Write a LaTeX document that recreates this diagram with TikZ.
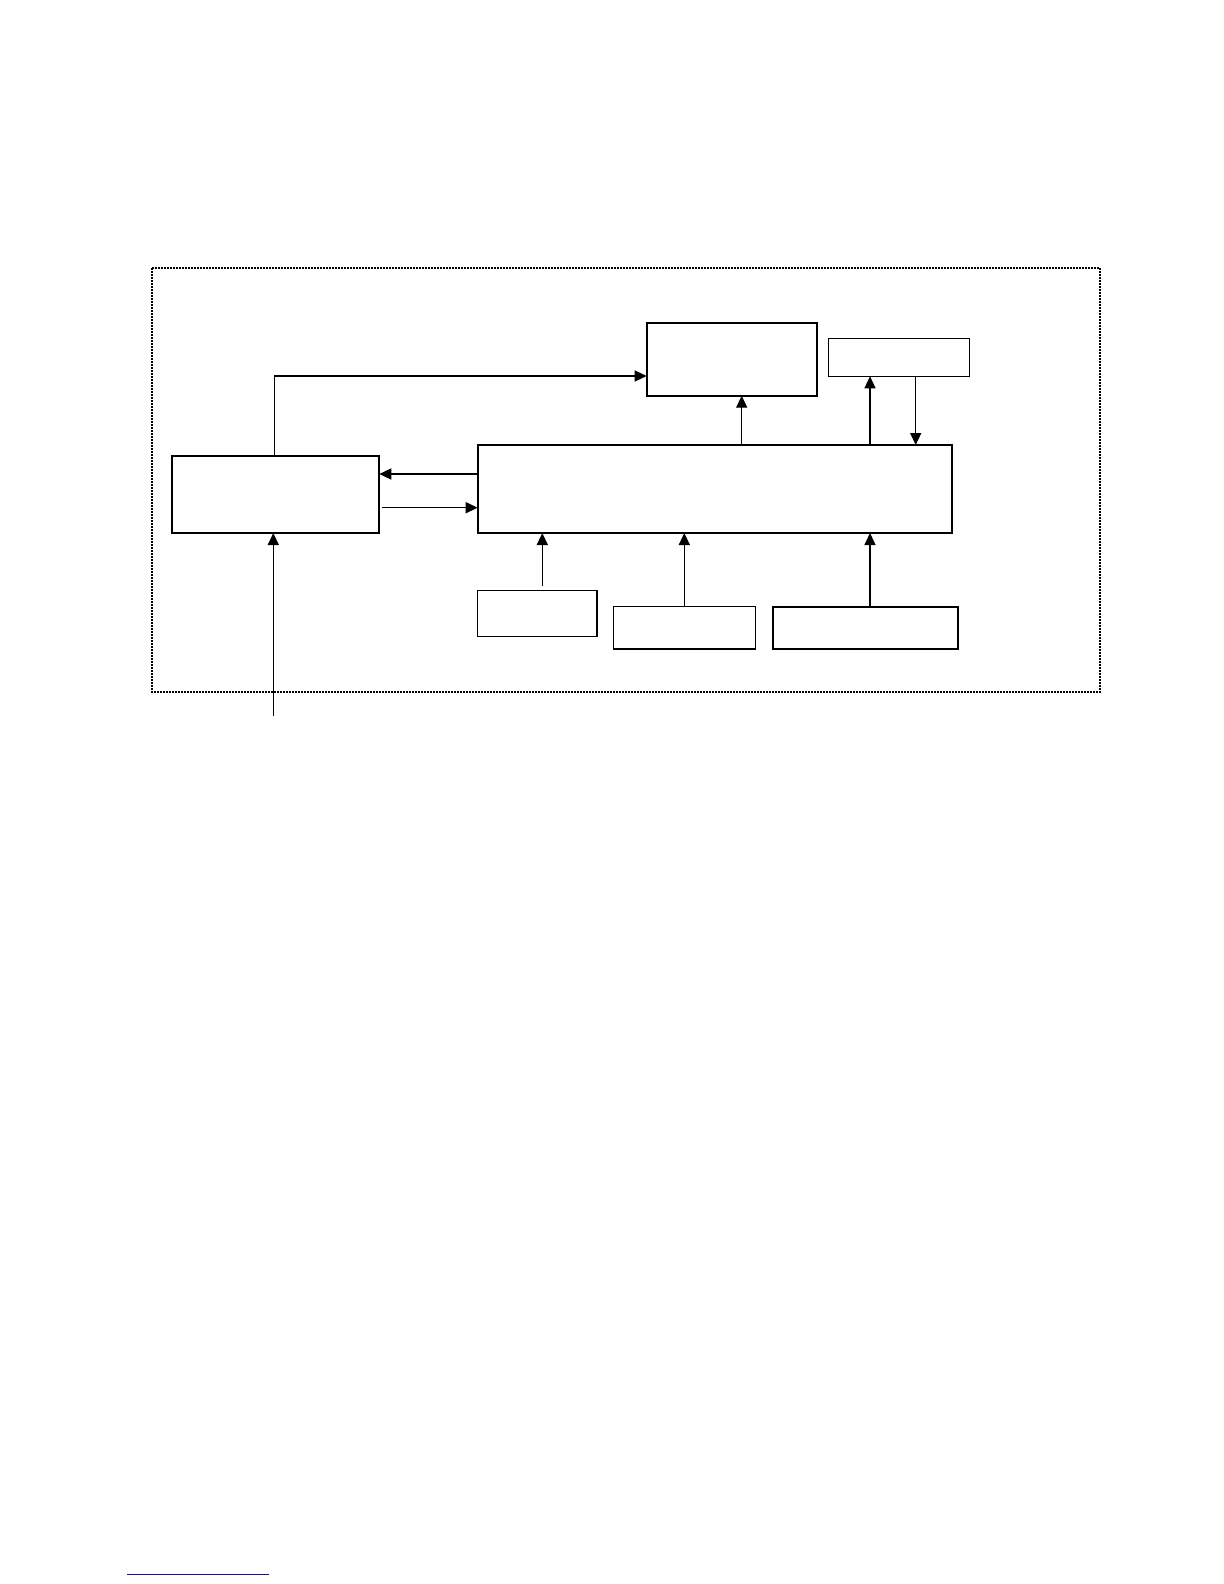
\documentclass[tikz,border=0pt]{standalone}
\usetikzlibrary{arrows.meta}
\begin{document}
\begin{tikzpicture}[x=0.5pt,y=-0.5pt,
  boxthick/.style={draw=black,line width=0.9pt,inner sep=0pt,outer sep=0pt,fill=white},
  boxthin/.style={draw=black,line width=0.6pt,inner sep=0pt,outer sep=0pt,fill=white},
  arr/.style={draw=black,line width=0.7pt,-{Triangle[length=6pt,width=5.5pt]}},
  frame/.style={draw=black,line width=0.6pt,dash pattern=on 0.8pt off 0.7pt}]
\useasboundingbox (0,0) rectangle (1224,1584);
\fill[white] (0,0) rectangle (1224,1584);
% dotted frame
\draw[frame] (152,268) rectangle (1100,692);
% boxes
\node[boxthick,minimum width=103.8pt,minimum height=38.65pt] (lb) at (275.5,494.35) {};
\node[boxthick,minimum width=237.15pt,minimum height=44pt] (bb) at (714.85,489) {};
\node[boxthick,minimum width=85.3pt,minimum height=36.5pt] (tb) at (732,359.2) {};
\node[boxthin,minimum width=70.5pt,minimum height=18.8pt] (tr) at (898.8,357.5) {};
\node[boxthin,minimum width=59.65pt,minimum height=23pt] (b1) at (537.35,613.3) {};
\node[boxthin,minimum width=70.8pt,minimum height=21.35pt] (b2) at (684.5,627.65) {};
\node[boxthick,minimum width=92.5pt,minimum height=21pt] (b3) at (865.5,627.7) {};
% helper coordinates
\coordinate (ytop) at (0,376);
\coordinate (yl) at (0,474);
\coordinate (yr) at (0,507.7);
\coordinate (xlb) at (274.7,0);
\coordinate (x1) at (542.3,0);
\coordinate (x2) at (684.3,0);
\coordinate (x3) at (870,0);
\coordinate (xt) at (741.7,0);
\coordinate (xd) at (915.7,0);
\coordinate (in) at (273.3,715.7);
% connectors
\draw[arr] (lb.north -| xlb) |- (tb.west |- ytop);
\draw[arr] (bb.west |- yl) -- (lb.east |- yl);
\draw[arr] ([xshift=1.5pt]lb.east |- yr) -- (bb.west |- yr);
\draw[arr] (in) -- (lb.south -| in);
\draw[arr] ([yshift=2pt]b1.north -| x1) -- (bb.south -| x1);
\draw[arr] (b2.north -| x2) -- (bb.south -| x2);
\draw[arr] (b3.north -| x3) -- (bb.south -| x3);
\draw[arr] (bb.north -| xt) -- (tb.south -| xt);
\draw[arr] (bb.north -| x3) -- (tr.south -| x3);
\draw[arr] (tr.south -| xd) -- (bb.north -| xd);
% footnote rule
\draw[line width=0.7pt,color={rgb,255:red,20;green,20;blue,160}] (126.7,1574.7) -- (269,1574.7);
\end{tikzpicture}
\end{document}
